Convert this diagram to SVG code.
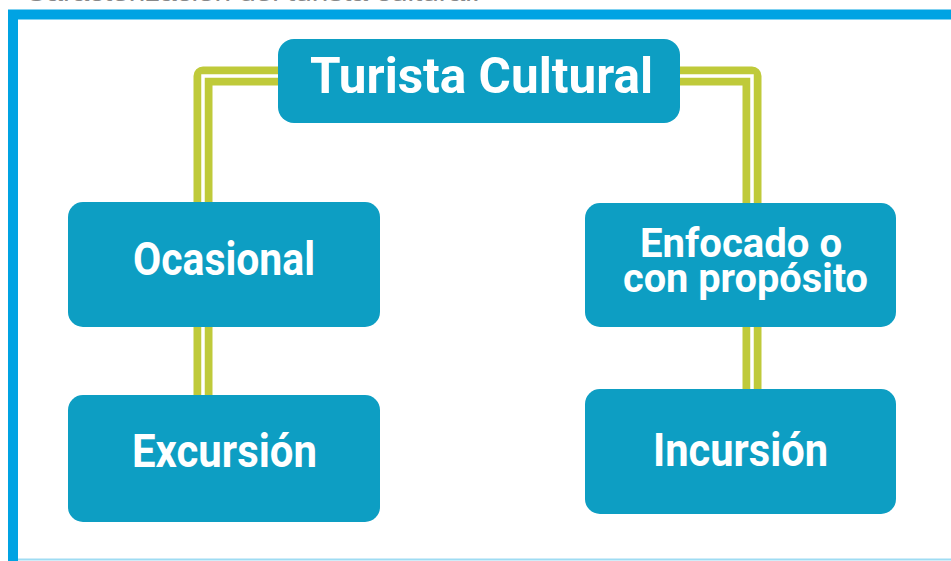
<svg xmlns="http://www.w3.org/2000/svg" width="951" height="561" viewBox="0 0 951 561">
<style>
.box{fill:#0d9ec3}
.lbl{font-family:Roboto,"Liberation Sans",sans-serif;font-weight:700;fill:#ffffff;text-anchor:middle}
.cg{fill:none;stroke:#bfca3a;stroke-width:19;stroke-linejoin:round}
.cw{fill:none;stroke:#ffffff;stroke-width:3.5}
</style>
<rect width="951" height="561" fill="#ffffff"/>
<text x="25" y="1" font-family="'Liberation Sans',sans-serif" font-size="22" fill="#888888" textLength="455" lengthAdjust="spacingAndGlyphs">Caracterización del turista cultural.</text>
<path d="M13 561 V14.5 H951" fill="none" stroke="#00a3e3" stroke-width="10"/>
<line x1="18" y1="559.5" x2="951" y2="559.5" stroke="#9fdcf3" stroke-width="2"/>
<g id="connectors">
<path class="cg" d="M280 76 H203 V204"/>
<path class="cw" d="M280 76 H203 V204"/>
<path class="cg" d="M678 76 H752 V205"/>
<path class="cw" d="M678 76 H752 V205"/>
<path class="cg" d="M203 325 V397"/>
<path class="cw" d="M203 325 V397"/>
<path class="cg" d="M752 325 V391"/>
<path class="cw" d="M752 325 V391"/>
</g>
<g id="turista">
<rect class="box" x="278" y="39" width="402" height="84" rx="16"/>
<text class="lbl" x="481.5" y="93" font-size="50" textLength="343" lengthAdjust="spacingAndGlyphs">Turista Cultural</text>
</g>
<g id="ocasional">
<rect class="box" x="68" y="202" width="312" height="125" rx="15"/>
<text class="lbl" x="224" y="275" font-size="46" textLength="182" lengthAdjust="spacingAndGlyphs">Ocasional</text>
</g>
<g id="excursion">
<rect class="box" x="68" y="395" width="312" height="127" rx="15"/>
<text class="lbl" x="224.5" y="467" font-size="46" textLength="185" lengthAdjust="spacingAndGlyphs">Excursión</text>
</g>
<g id="enfocado">
<rect class="box" x="585" y="203" width="311" height="124" rx="15"/>
<text class="lbl" x="741" y="257" font-size="40" textLength="202" lengthAdjust="spacingAndGlyphs">Enfocado o</text>
<text class="lbl" x="745.5" y="292" font-size="40" textLength="245" lengthAdjust="spacingAndGlyphs">con propósito</text>
</g>
<g id="incursion">
<rect class="box" x="585" y="389" width="311" height="125" rx="15"/>
<text class="lbl" x="740.5" y="466" font-size="46" textLength="175" lengthAdjust="spacingAndGlyphs">Incursión</text>
</g>
</svg>
